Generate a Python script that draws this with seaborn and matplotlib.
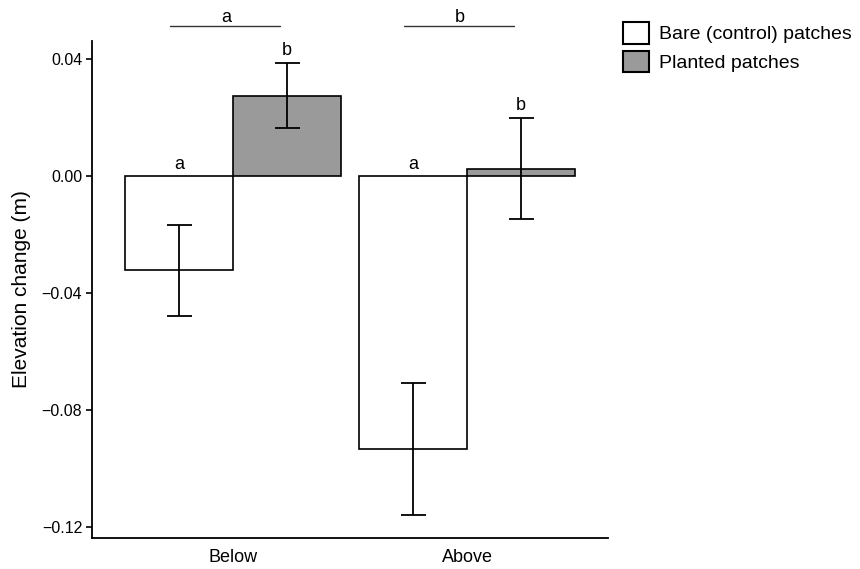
import matplotlib
matplotlib.use("Agg")
import matplotlib.pyplot as plt
import seaborn as sns
import pandas as pd
import numpy as np

# ---- data ----
positions = ["Below", "Above"]
treatments = ["Bare (control) patches", "Planted patches"]
bare_mean = [-0.0323, -0.0935]
bare_err = [0.0157, 0.0226]
planted_mean = [0.0275, 0.0025]
planted_err = [0.0110, 0.0172]
bar_letters_bare = ["a", "a"]
bar_letters_planted = ["b", "b"]
group_letters = ["a", "b"]
ytick_values = [-0.12, -0.08, -0.04, 0.00, 0.04]
ytick_labels = ["\u22120.12", "\u22120.08", "\u22120.04", "0.00", "0.04"]

df = pd.DataFrame({
    "Position": positions * 2,
    "Treatment": [treatments[0]] * 2 + [treatments[1]] * 2,
    "Change": bare_mean + planted_mean,
})

sns.set_style("white")
plt.rcParams["font.family"] = ["Liberation Sans", "DejaVu Sans"]
plt.rcParams["text.color"] = "black"
plt.rcParams["axes.labelcolor"] = "black"
plt.rcParams["xtick.color"] = "black"
plt.rcParams["ytick.color"] = "black"

fig = plt.figure(figsize=(8.6, 5.69), dpi=100)
ax = fig.add_axes([0.107, 0.0545, 0.600, 0.8735])

sns.barplot(data=df, x="Position", y="Change", hue="Treatment",
            order=positions, hue_order=treatments,
            palette=["white", "#9a9a9a"], edgecolor="black", linewidth=1.2,
            width=0.92, errorbar=None, saturation=1, ax=ax)

means = [bare_mean, planted_mean]
errs = [bare_err, planted_err]
for h, container in enumerate(ax.containers[:2]):
    for i, bar in enumerate(container):
        xc = bar.get_x() + bar.get_width() / 2
        m, e = means[h][i], errs[h][i]
        ax.errorbar(xc, m, yerr=e, color="black", elinewidth=1.3, capsize=9,
                    capthick=1.3, fmt="none")
        if h == 0:
            ax.text(xc, 0.0012, bar_letters_bare[i], ha="center", va="bottom", fontsize=13)
        else:
            ax.text(xc, m + e + 0.0015, bar_letters_planted[i], ha="center", va="bottom", fontsize=13)

# group brackets above the axes
for i, letter in enumerate(group_letters):
    ax.plot([i - 0.27, i + 0.20], [0.0513, 0.0513], color="#333333", lw=1.0, clip_on=False)
    ax.text(i - 0.03, 0.0512, letter, ha="center", va="bottom", fontsize=13, clip_on=False)

ax.set_xlim(-0.603, 1.603)
ax.set_ylim(-0.1238, 0.0462)
ax.set_yticks(ytick_values)
ax.set_yticklabels(ytick_labels, fontsize=11.5)
ax.tick_params(axis="x", length=0, labelsize=13, pad=8)
ax.tick_params(axis="y", length=4, width=1.2, color="black", left=True, labelsize=11.5, pad=3)
ax.set_xlabel("")
ax.set_ylabel("Elevation change (m)", fontsize=15, labelpad=8)
for s in ["top", "right"]:
    ax.spines[s].set_visible(False)
for s in ["left", "bottom"]:
    ax.spines[s].set_color("black")
    ax.spines[s].set_linewidth(1.3)

leg = ax.legend(loc="upper left", bbox_to_anchor=(0.715, 0.975), bbox_transform=fig.transFigure,
                frameon=False, fontsize=14, handlelength=1.35, handleheight=1.35,
                handletextpad=0.5, labelspacing=0.35, borderaxespad=0)
for h in leg.legend_handles:
    h.set_edgecolor("black")
    h.set_linewidth(1.5)

fig.savefig("out.png", dpi=100)
